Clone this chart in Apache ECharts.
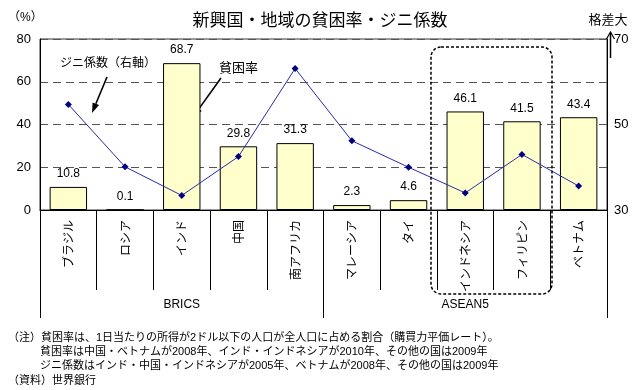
<!DOCTYPE html>
<html><head><meta charset="utf-8">
<script src="https://cdn.jsdelivr.net/npm/echarts@6/dist/echarts.min.js"></script>
<style>html,body{margin:0;padding:0;background:#fff}#c{width:640px;height:390px}</style>
</head><body><div id="c"></div>
<script>
const categories = ['ブラジル','ロシア','インド','中国','南アフリカ','マレーシア','タイ','インドネシア','フィリピン','ベトナム'];
const groups = ['BRICS','ASEAN5'];
const poverty = [10.8, 0.1, 68.7, 29.8, 31.3, 2.3, 4.6, 46.1, 41.5, 43.4];
const gini = [54.7, 40.1, 33.4, 42.5, 63.1, 46.2, 40.0, 34.0, 43.0, 35.6];
const leftTickLabels = [0, 20, 40, 60, 80];
const rightTickLabels = [30, 50, 70];
const notes = [
  '（注）貧困率は、1日当たりの所得が2ドル以下の人口が全人口に占める割合（購買力平価レート）。',
  '貧困率は中国・ベトナムが2008年、インド・インドネシアが2010年、その他の国は2009年',
  'ジニ係数はインド・中国・インドネシアが2005年、ベトナムが2008年、その他の国は2009年',
  '（資料）世界銀行'
];

const JP = '"Noto Sans CJK JP", sans-serif';
const NUM = '"Liberation Sans", "Noto Sans CJK JP", sans-serif';

function arrow(x1, y1, x2, y2) {
  const dx = x2 - x1, dy = y2 - y1, L = Math.hypot(dx, dy);
  const ux = dx / L, uy = dy / L, px = -uy, py = ux;
  const hl = 10, hw = 3.5;
  const bx = x2 - ux * hl, by = y2 - uy * hl;
  return [
    {type: 'line', shape: {x1, y1, x2: bx, y2: by}, style: {stroke: '#000', lineWidth: 1.6}},
    {type: 'polygon', shape: {points: [[x2, y2], [bx + px * hw, by + py * hw], [bx - px * hw, by - py * hw]]}, style: {fill: '#000'}}
  ];
}

const chart = echarts.init(document.getElementById('c'), null, {renderer: 'canvas'});
const noteY = [338, 352, 366, 381];
const noteX = [8, 40, 40, 8];
const graphics = [
  {type: 'text', x: 320, y: 20, style: {text: '新興国・地域の貧困率・ジニ係数', font: '17px ' + JP, fill: '#000', align: 'center', verticalAlign: 'middle'}},
  {type: 'text', x: 8, y: 18, style: {text: '（%）', font: '12px ' + NUM, fill: '#000', align: 'left', verticalAlign: 'middle'}},
  {type: 'text', x: 608, y: 19, style: {text: '格差大', font: '13px ' + JP, fill: '#000', align: 'center', verticalAlign: 'middle'}},
  {type: 'line', shape: {x1: 610.5, y1: 58, x2: 610.5, y2: 33}, style: {stroke: '#000', lineWidth: 1.5}},
  {type: 'polyline', shape: {points: [[606.5, 39], [610.5, 32], [614.5, 39]]}, style: {stroke: '#000', lineWidth: 1.2, fill: null}},
  {type: 'text', x: 60, y: 62, style: {text: 'ジニ係数（右軸）', font: '12px ' + JP, fill: '#000', align: 'left', verticalAlign: 'middle'}},
  {type: 'text', x: 219, y: 67, style: {text: '貧困率', font: '13px ' + JP, fill: '#000', align: 'left', verticalAlign: 'middle'}},
  ...arrow(107, 77, 92, 113),
  ...arrow(221, 78, 193, 117),
  {type: 'rect', shape: {x: 431, y: 47, width: 121, height: 247, r: 10}, style: {fill: null, stroke: '#000', lineWidth: 1.5, lineDash: [3, 2]}, z: 50}
];
notes.forEach((t, i) => graphics.push({type: 'text', x: noteX[i], y: noteY[i], style: {text: t, font: '11px ' + NUM, fill: '#000', align: 'left', verticalAlign: 'middle'}}));

chart.setOption({
  animation: false,
  backgroundColor: '#fff',
  grid: {left: 40, right: 33, top: 39, bottom: 180, show: true, borderColor: '#333', borderWidth: 1},
  xAxis: [
    {type: 'category', data: categories, position: 'bottom',
     axisLine: {show: true, lineStyle: {color: '#000', width: 1}},
     axisTick: {show: true, interval: 0, length: 80, lineStyle: {color: '#000'}},
     axisLabel: {interval: 0, rotate: 90, margin: 10, fontSize: 12, fontFamily: JP, color: '#000'}},
    {type: 'category', data: groups, position: 'bottom',
     axisLine: {show: false},
     axisTick: {show: true, interval: 0, length: 108, lineStyle: {color: '#000'}},
     axisLabel: {interval: 0, margin: 89, fontSize: 12, fontFamily: NUM, color: '#000'}}
  ],
  yAxis: [
    {type: 'value', min: leftTickLabels[0], max: leftTickLabels[leftTickLabels.length - 1], interval: 20,
     axisLine: {show: true, lineStyle: {color: '#000'}}, axisTick: {show: false},
     axisLabel: {margin: 9, fontSize: 13, fontFamily: NUM, color: '#000'},
     splitLine: {show: true, lineStyle: {color: '#555', type: [8, 5], width: 1}}},
    {type: 'value', position: 'right', min: rightTickLabels[0], max: rightTickLabels[rightTickLabels.length - 1], interval: 10,
     axisLine: {show: true, lineStyle: {color: '#000'}}, axisTick: {show: false},
     axisLabel: {margin: 7, fontSize: 13, fontFamily: NUM, color: '#000', formatter: v => rightTickLabels.includes(v) ? String(v) : ''},
     splitLine: {show: false}}
  ],
  series: [
    {type: 'bar', data: poverty, xAxisIndex: 0, yAxisIndex: 0, barWidth: '66%',
     itemStyle: {color: '#ffffcc', borderColor: '#000', borderWidth: 1},
     label: {show: true, position: 'top', distance: 7, fontSize: 12, fontFamily: NUM, color: '#000', formatter: p => p.value.toFixed(1)}},
    {type: 'line', data: gini, xAxisIndex: 0, yAxisIndex: 1, symbol: 'diamond', symbolSize: 7,
     lineStyle: {color: '#2a2aaa', width: 1}, itemStyle: {color: '#000080'}, z: 5}
  ],
  graphic: graphics
});
</script></body></html>
